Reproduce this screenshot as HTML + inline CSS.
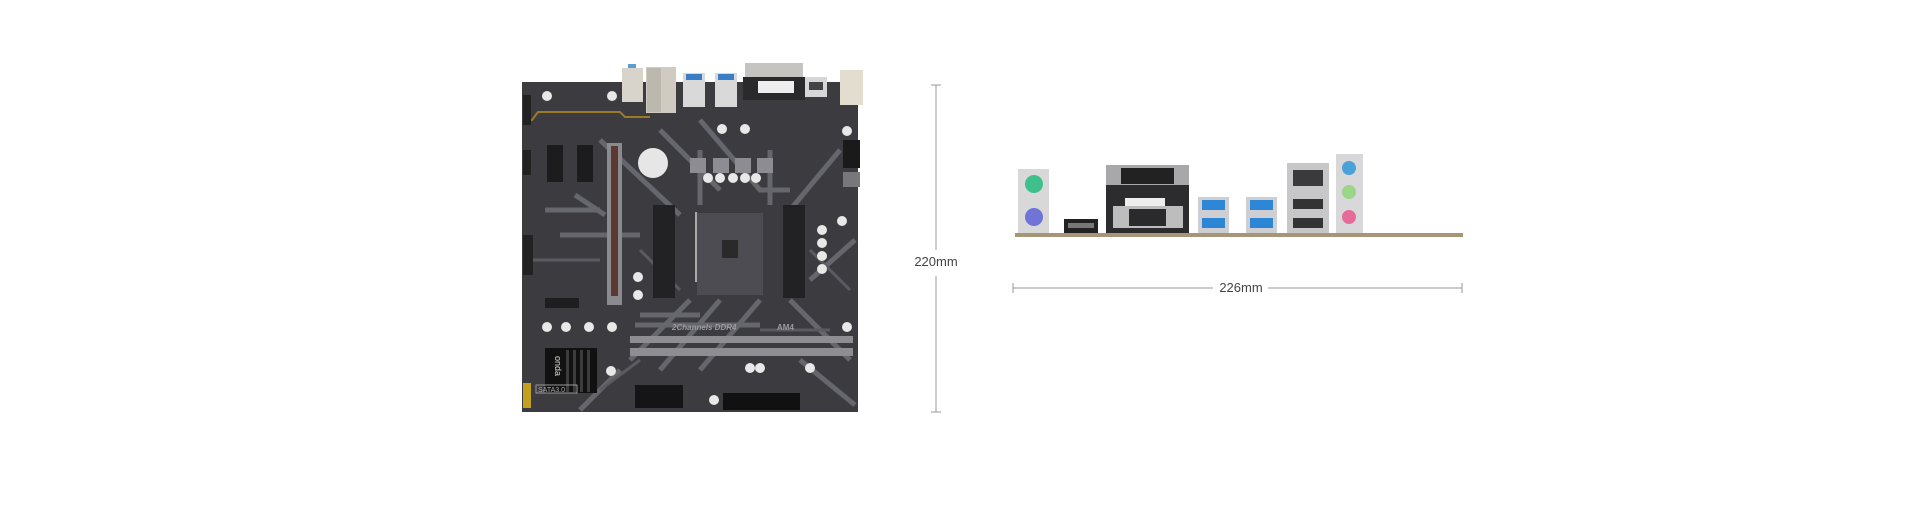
<!DOCTYPE html>
<html><head><meta charset="utf-8"><style>
html,body{margin:0;padding:0;background:#fff;width:1920px;height:528px;overflow:hidden}
svg{position:absolute;left:0;top:0}
text{font-family:"Liberation Sans",sans-serif}
</style></head><body>
<svg width="1920" height="528" viewBox="0 0 1920 528">
<!-- ===== Motherboard ===== -->
<rect x="522" y="82" width="336" height="330" fill="#3b3b40"/>
<!-- light diagonal traces -->
<g stroke="#6e6e75" stroke-width="5" fill="none" opacity="0.85">
<path d="M600 140 L680 215"/><path d="M660 130 L720 190"/><path d="M700 120 L760 190 L790 190"/>
<path d="M840 150 L790 210"/><path d="M855 240 L810 280"/><path d="M690 300 L630 360"/>
<path d="M720 300 L660 370"/><path d="M760 300 L700 370"/><path d="M790 300 L850 360"/>
<path d="M800 360 L855 405"/><path d="M620 370 L580 410"/><path d="M575 195 L605 215"/>
<path d="M545 210 L600 210"/><path d="M560 235 L640 235"/><path d="M700 205 L700 150"/>
<path d="M770 205 L770 150"/><path d="M635 325 L760 325"/><path d="M640 315 L700 315"/>
</g>
<g stroke="#5a5a60" stroke-width="3" fill="none">
<path d="M640 250 L680 290"/><path d="M810 250 L850 290"/><path d="M530 260 L600 260"/>
<path d="M760 330 L830 330"/><path d="M600 390 L640 360"/>
</g>
<!-- gold trace -->
<path d="M523 120 L532 120 L538 112 L620 112 L625 117 L650 117" stroke="#9a7a2a" stroke-width="2" fill="none"/>
<!-- rear IO -->
<rect x="628" y="64" width="8" height="6" fill="#5a9fcf"/>
<rect x="622" y="68" width="21" height="34" fill="#d8d4cc"/>
<rect x="646" y="67" width="30" height="46" fill="#cfcac2"/>
<rect x="647" y="68" width="14" height="44" fill="#bdb8ae"/>
<rect x="683" y="73" width="22" height="34" fill="#d9d9d9"/><rect x="686" y="74" width="16" height="6" fill="#3a7fc6"/>
<rect x="715" y="73" width="22" height="34" fill="#d9d9d9"/><rect x="718" y="74" width="16" height="6" fill="#3a7fc6"/>
<rect x="745" y="63" width="58" height="20" fill="#c6c4c0"/>
<rect x="743" y="77" width="62" height="23" fill="#2a2a2c"/>
<rect x="758" y="81" width="36" height="12" fill="#eee"/>
<rect x="805" y="77" width="22" height="20" fill="#d6d6d6"/><rect x="809" y="82" width="14" height="8" fill="#444"/>
<rect x="840" y="70" width="23" height="35" fill="#e3ddd0"/>
<!-- fan headers / small parts -->
<rect x="523" y="95" width="8" height="30" fill="#222"/>
<rect x="523" y="150" width="8" height="25" fill="#222"/>
<rect x="523" y="235" width="10" height="40" fill="#222"/>
<rect x="843" y="140" width="17" height="28" fill="#1a1a1a"/>
<rect x="843" y="172" width="17" height="15" fill="#77777c"/>
<!-- mounting holes -->
<g fill="#e8e8e8"><circle cx="547" cy="96" r="5"/><circle cx="612" cy="96" r="5"/><circle cx="847" cy="131" r="5"/><circle cx="547" cy="327" r="5"/><circle cx="612" cy="327" r="5"/><circle cx="847" cy="327" r="5"/></g>
<!-- PCIe slots -->
<rect x="547" y="145" width="16" height="37" fill="#1c1c1e"/>
<rect x="577" y="145" width="16" height="37" fill="#1c1c1e"/>
<rect x="607" y="143" width="15" height="162" fill="#8a8a8f"/>
<rect x="611" y="146" width="7" height="150" fill="#5a3a30"/>
<!-- battery -->
<circle cx="653" cy="163" r="15" fill="#e6e6e6"/>
<!-- chokes -->
<g fill="#8c8c92"><rect x="690" y="158" width="16" height="15"/><rect x="713" y="158" width="16" height="15"/><rect x="735" y="158" width="16" height="15"/><rect x="757" y="158" width="16" height="15"/></g>
<g fill="#e8e8e8"><circle cx="708" cy="178" r="5"/><circle cx="720" cy="178" r="5"/><circle cx="733" cy="178" r="5"/><circle cx="745" cy="178" r="5"/><circle cx="756" cy="178" r="5"/><circle cx="722" cy="129" r="5"/><circle cx="745" cy="129" r="5"/>
<circle cx="842" cy="221" r="5"/><circle cx="822" cy="230" r="5"/><circle cx="822" cy="243" r="5"/><circle cx="822" cy="256" r="5"/><circle cx="822" cy="269" r="5"/><circle cx="638" cy="277" r="5"/><circle cx="638" cy="295" r="5"/><circle cx="566" cy="327" r="5"/><circle cx="589" cy="327" r="5"/><circle cx="750" cy="368" r="5"/><circle cx="760" cy="368" r="5"/><circle cx="810" cy="368" r="5"/><circle cx="611" cy="371" r="5"/><circle cx="714" cy="400" r="5"/></g>
<!-- CPU socket & brackets -->
<rect x="653" y="205" width="22" height="93" fill="#222225"/>
<rect x="783" y="205" width="22" height="93" fill="#222225"/>
<rect x="697" y="213" width="66" height="82" fill="#4c4c52"/>
<rect x="722" y="240" width="16" height="18" fill="#2a2a2a"/>
<rect x="695" y="212" width="2" height="70" fill="#aaa"/>
<!-- M.2 -->
<rect x="545" y="298" width="34" height="10" fill="#1e1e20"/>
<!-- RAM -->
<rect x="630" y="336" width="223" height="7" fill="#8e8e92"/>
<rect x="630" y="348" width="223" height="8" fill="#8e8e92"/>
<text x="672" y="330" font-size="8" font-style="italic" font-weight="bold" fill="#9a9aa0">2Channels DDR4</text>
<text x="777" y="330" font-size="8" font-weight="bold" fill="#9a9aa0">AM4</text>
<!-- heatsink -->
<rect x="545" y="348" width="52" height="45" fill="#111"/>
<g fill="#3c3c3c"><rect x="566" y="350" width="3" height="42"/><rect x="573" y="350" width="3" height="42"/><rect x="580" y="350" width="3" height="42"/><rect x="587" y="350" width="3" height="42"/></g>
<text x="555" y="356" font-size="9" fill="#ddd" transform="rotate(90 555 356)">onda</text>
<rect x="536" y="385" width="41" height="8" fill="none" stroke="#999" stroke-width="1"/>
<text x="538" y="392" font-size="7" fill="#aaa">SATA3.0</text>
<rect x="523" y="383" width="8" height="25" fill="#c4a020"/>
<!-- SATA, 24-pin -->
<rect x="635" y="385" width="48" height="23" fill="#151517"/>
<rect x="723" y="393" width="77" height="17" fill="#111"/>
<!-- ===== 220mm dimension ===== -->
<line x1="936" y1="85" x2="936" y2="250" stroke="#999" stroke-width="1"/>
<line x1="936" y1="276" x2="936" y2="412" stroke="#999" stroke-width="1"/>
<line x1="931" y1="85" x2="941" y2="85" stroke="#999"/>
<line x1="931" y1="412" x2="941" y2="412" stroke="#999"/>
<text x="936" y="266" font-size="13" fill="#444" text-anchor="middle">220mm</text>
<!-- ===== IO panel ===== -->
<rect x="1015" y="233" width="448" height="4" fill="#a39777"/>
<!-- PS2 -->
<rect x="1018" y="169" width="31" height="64" fill="#d8d8d8"/>
<circle cx="1034" cy="184" r="9" fill="#3fbf8c"/>
<circle cx="1034" cy="217" r="9" fill="#6f74d6"/>
<!-- HDMI -->
<rect x="1064" y="219" width="34" height="14" fill="#222"/>
<rect x="1068" y="223" width="26" height="5" fill="#777"/>
<!-- DVI/VGA -->
<rect x="1106" y="165" width="83" height="68" fill="#2c2c2e"/>
<rect x="1106" y="165" width="83" height="20" fill="#a8a8ab"/>
<rect x="1121" y="168" width="53" height="16" fill="#222"/>
<rect x="1125" y="198" width="40" height="10" fill="#eee"/>
<rect x="1113" y="206" width="70" height="22" fill="#bdbdbd"/>
<rect x="1129" y="209" width="37" height="17" fill="#2a2a2c"/>
<!-- USB3 x2 -->
<rect x="1198" y="197" width="31" height="36" fill="#cfcfd3"/>
<rect x="1202" y="200" width="23" height="10" fill="#2e86d6"/><rect x="1202" y="218" width="23" height="10" fill="#2e86d6"/>
<rect x="1246" y="197" width="31" height="36" fill="#cfcfd3"/>
<rect x="1250" y="200" width="23" height="10" fill="#2e86d6"/><rect x="1250" y="218" width="23" height="10" fill="#2e86d6"/>
<!-- LAN + USB2 -->
<rect x="1287" y="163" width="42" height="70" fill="#c7c7c9"/>
<rect x="1293" y="170" width="30" height="16" fill="#3a3a3c"/>
<rect x="1293" y="199" width="30" height="10" fill="#333"/>
<rect x="1293" y="218" width="30" height="10" fill="#333"/>
<!-- Audio -->
<rect x="1336" y="154" width="27" height="79" fill="#d8d8da"/>
<circle cx="1349" cy="168" r="7" fill="#4aa3d8"/>
<circle cx="1349" cy="192" r="7" fill="#9ad58a"/>
<circle cx="1349" cy="217" r="7" fill="#e46b9a"/>
<!-- 226mm -->
<line x1="1013" y1="288" x2="1213" y2="288" stroke="#999" stroke-width="1"/>
<line x1="1268" y1="288" x2="1462" y2="288" stroke="#999" stroke-width="1"/>
<line x1="1013" y1="283" x2="1013" y2="293" stroke="#999"/>
<line x1="1462" y1="283" x2="1462" y2="293" stroke="#999"/>
<text x="1241" y="292" font-size="13" fill="#444" text-anchor="middle">226mm</text>
</svg>
</body></html>
